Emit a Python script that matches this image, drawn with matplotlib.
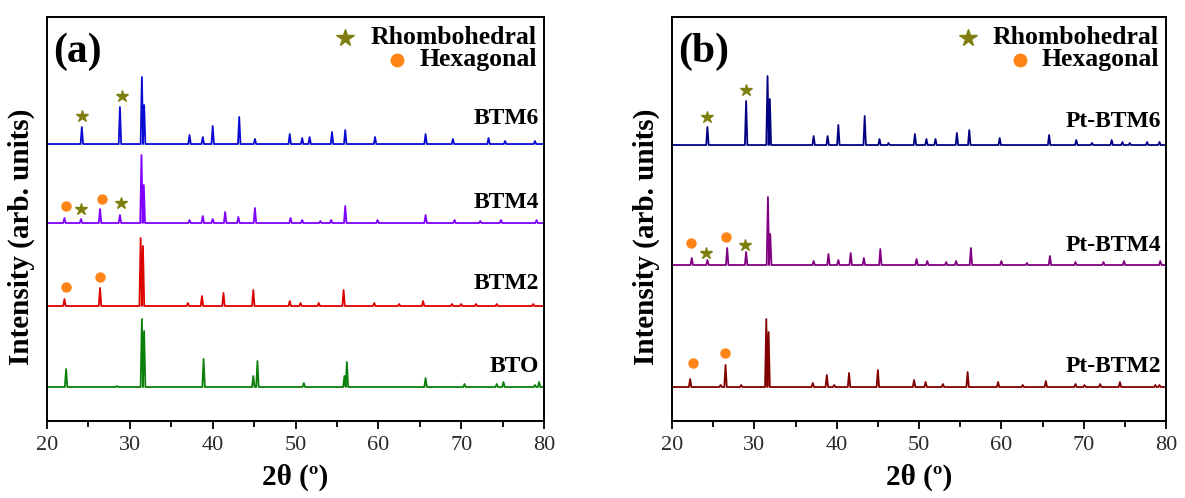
import matplotlib.pyplot as plt
import numpy as np

plt.rcParams['font.family'] = ['Liberation Serif', 'DejaVu Serif']

# peak tables: (2theta, height above baseline)
btm6_pos = [24.2, 28.8, 31.45, 31.72, 37.2, 38.8, 40.0, 43.2, 45.1, 49.3, 50.8, 51.7, 54.4, 56.0,
            59.6, 65.7, 69.0, 73.3, 75.3, 78.9]
btm6_int = [17, 37, 67, 39, 9, 7, 18, 27, 5, 10, 6, 7, 12, 14, 7, 10, 5, 6, 3, 3]

btm4_pos = [22.1, 24.1, 26.4, 28.8, 31.4, 31.68, 37.2, 38.8, 40.0, 41.5, 43.1, 45.1, 49.4, 50.8,
            53.0, 54.3, 56.0, 59.9, 65.7, 69.2, 72.3, 74.8, 79.1]
btm4_int = [5, 4, 14, 8, 68, 38, 3, 7, 4, 11, 6, 15, 5, 3, 2, 3, 17, 3, 8, 3, 2, 3, 3]

btm2_pos = [22.1, 26.4, 31.3, 31.58, 37.0, 38.7, 41.3, 44.9, 49.3, 50.6, 52.8, 55.8, 59.5, 62.5,
            65.4, 68.9, 70.0, 71.8, 74.3, 78.7]
btm2_int = [7, 18, 68, 60, 3, 10, 13, 16, 5, 3, 3, 16, 3, 2, 5, 2, 2, 2, 2, 2]

bto_pos = [22.3, 28.4, 31.45, 31.72, 38.9, 44.9, 45.4, 51.0, 55.9, 56.2, 65.7, 70.4, 74.3, 75.1,
           78.9, 79.4]
bto_int = [18, 1, 68, 56, 28, 11, 26, 4, 11, 25, 9, 3, 3, 5, 2, 5]

pt6_pos = [24.3, 29.0, 31.6, 31.88, 37.2, 38.9, 40.2, 43.4, 45.2, 46.3, 49.5, 50.9, 52.0, 54.6,
           56.1, 59.8, 65.8, 69.1, 71.0, 73.4, 74.7, 75.6, 77.7, 79.2]
pt6_int = [18, 44, 69, 46, 9, 9, 20, 29, 6, 2, 11, 6, 6, 12, 15, 7, 10, 5, 2, 5, 3, 2, 3, 3]

pt4_pos = [22.4, 24.3, 26.7, 29.0, 31.65, 31.93, 37.2, 39.0, 40.2, 41.7, 43.3, 45.3, 49.7, 51.0,
           53.3, 54.5, 56.3, 60.0, 63.1, 65.9, 69.0, 72.4, 74.9, 79.3]
pt4_int = [7, 5, 17, 13, 68, 31, 4, 11, 5, 12, 7, 16, 6, 4, 3, 4, 17, 4, 2, 9, 3, 3, 4, 4]

pt2_pos = [22.2, 25.9, 26.5, 28.4, 31.45, 31.73, 37.1, 38.8, 39.7, 41.5, 45.0, 49.4, 50.8, 52.9,
           55.9, 59.6, 62.6, 65.4, 69.0, 70.1, 72.0, 74.4, 78.7, 79.2]
pt2_int = [8, 2, 22, 2, 68, 55, 4, 12, 2, 14, 17, 7, 5, 3, 15, 5, 2, 6, 3, 2, 3, 5, 2, 2]

# phase marks: (2theta, height above baseline)
btm6_star = [(24.2, 28), (29.0, 48)]
btm4_star = [(24.1, 14), (28.9, 20)]
btm4_dot = [(22.3, 17), (26.6, 24)]
btm2_dot = [(22.3, 19), (26.4, 29)]
pt6_star = [(24.3, 28), (29.0, 55)]
pt4_star = [(24.1, 12), (28.9, 20)]
pt4_dot = [(22.3, 22), (26.5, 28)]
pt2_dot = [(22.6, 24), (26.4, 34)]

star_col = '#7f7f10'
dot_col = '#ff8417'


def pattern(pos, inten, w=0.15):
    # sharp peak profile on a flat baseline
    xs, ys = [20], [0]
    for p, h in sorted(zip(pos, inten)):
        xs += [p - w, p, p + w]
        ys += [0, h, 0]
    xs.append(80)
    ys.append(0)
    return np.array(xs), np.array(ys)


def panel(ax, curves, tag):
    for pos, inten, base, col, name, ly in curves:
        x, y = pattern(pos, inten)
        ax.plot(x, y + base, color=col, lw=1.3)
        ax.text(0.99, ly, name, transform=ax.transAxes, ha='right', va='center',
                fontsize=17, fontweight='bold')
    ax.set_xlim(20, 80)
    ax.set_ylim(0, 404)
    ax.set_xticks(np.arange(20, 81, 10))
    ax.set_xticks(np.arange(25, 80, 10), minor=True)
    ax.set_yticks([])
    ax.tick_params(axis='x', which='major', direction='out', length=6, width=1.3,
                   labelsize=16, pad=5, labelcolor='#2a2a2a')
    ax.tick_params(axis='x', which='minor', direction='out', length=4, width=1.3)
    for s in ax.spines.values():
        s.set_linewidth(1.4)
    ax.set_xlabel('2θ (º)', fontsize=21, fontweight='bold', labelpad=6)
    ax.set_ylabel('Intensity (arb. units)', fontsize=21, fontweight='bold')
    ax.yaxis.set_label_coords(-0.024, 0.455)
    ax.text(0.012, 0.915, '(' + tag + ')', transform=ax.transAxes, ha='left', va='center',
            fontsize=30, fontweight='bold')
    # phase legend
    ax.plot([0.6], [0.947], marker='*', ms=13, color=star_col, transform=ax.transAxes, ls='none')
    ax.text(0.985, 0.95, 'Rhombohedral', transform=ax.transAxes, ha='right', va='center',
            fontsize=18.5, fontweight='bold')
    ax.plot([0.705], [0.894], marker='o', ms=9, color=dot_col, transform=ax.transAxes, ls='none')
    ax.text(0.985, 0.894, 'Hexagonal', transform=ax.transAxes, ha='right', va='center',
            fontsize=18.5, fontweight='bold')


def marks(ax, pts, base, kind):
    px = [p[0] for p in pts]
    py = [p[1] + base for p in pts]
    if kind == 'star':
        ax.plot(px, py, ls='none', marker='*', ms=9, color=star_col)
    else:
        ax.plot(px, py, ls='none', marker='o', ms=6.5, color=dot_col)


fig = plt.figure(figsize=(11.85, 4.98), dpi=100)
ax1 = fig.add_axes([0.0397, 0.1546, 0.4194, 0.8112])
ax2 = fig.add_axes([0.5671, 0.1546, 0.4169, 0.8112])

# baselines in the same units as the intensities
panel(ax1, [
    (btm6_pos, btm6_int, 277, '#0a0ad2', 'BTM6', 0.75),
    (btm4_pos, btm4_int, 198, '#7f00ff', 'BTM4', 0.54),
    (btm2_pos, btm2_int, 115, '#de0000', 'BTM2', 0.34),
    (bto_pos, bto_int, 34, '#0a800a', 'BTO', 0.136),
], 'a')
marks(ax1, btm6_star, 277, 'star')
marks(ax1, btm4_star, 198, 'star')
marks(ax1, btm4_dot, 198, 'dot')
marks(ax1, btm2_dot, 115, 'dot')

panel(ax2, [
    (pt6_pos, pt6_int, 276, '#000080', 'Pt-BTM6', 0.742),
    (pt4_pos, pt4_int, 156, '#800080', 'Pt-BTM4', 0.435),
    (pt2_pos, pt2_int, 34, '#800000', 'Pt-BTM2', 0.135),
], 'b')
marks(ax2, pt6_star, 276, 'star')
marks(ax2, pt4_star, 156, 'star')
marks(ax2, pt4_dot, 156, 'dot')
marks(ax2, pt2_dot, 34, 'dot')

fig.savefig('out.png', dpi=100)
